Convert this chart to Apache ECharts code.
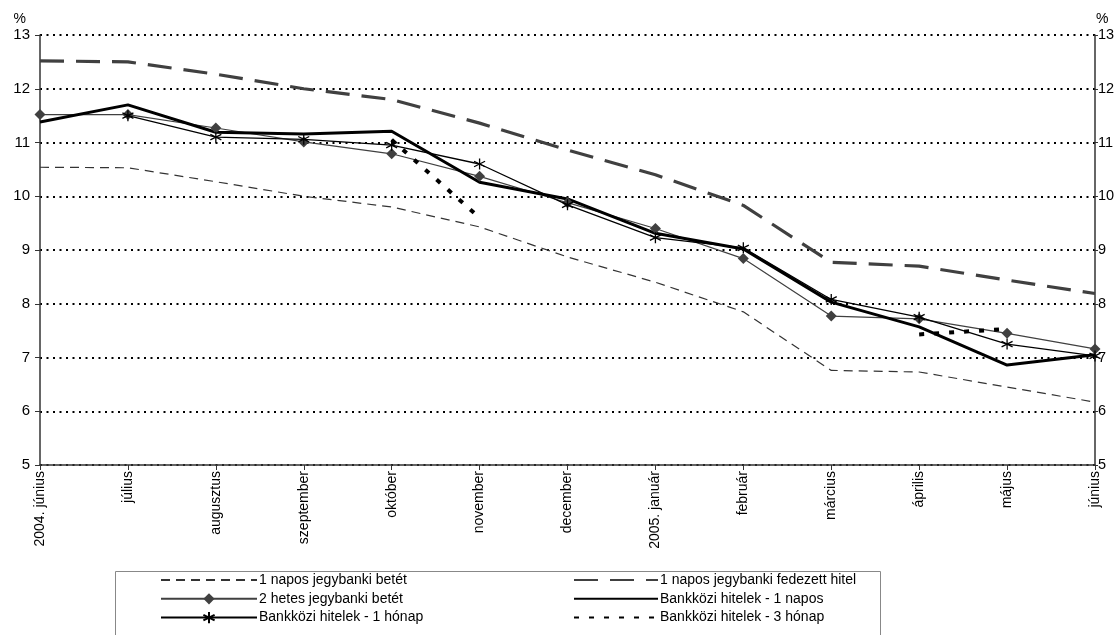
<!DOCTYPE html>
<html>
<head>
<meta charset="utf-8">
<script src="https://cdn.jsdelivr.net/npm/echarts@6/dist/echarts.min.js"></script>
<style>
  html, body { margin: 0; padding: 0; background: #fff; overflow: hidden; }
  #chart { width: 1114px; height: 635px; }
</style>
</head>
<body>
<div id="chart"></div>
<script>
var categories = ['2004. június', 'július', 'augusztus', 'szeptember', 'október', 'november', 'december', '2005. január', 'február', 'március', 'április', 'május', 'június'];
var yTicks = [5, 6, 7, 8, 9, 10, 11, 12, 13];

var betet1Napos = [10.54, 10.53, 10.27, 10.0, 9.8, 9.43, 8.87, 8.4, 7.85, 6.76, 6.73, 6.45, 6.17];
var fedezettHitel = [12.52, 12.5, 12.27, 12.0, 11.8, 11.36, 10.86, 10.4, 9.83, 8.77, 8.7, 8.44, 8.19];
var betet2Hetes = [11.52, 11.52, 11.27, 11.01, 10.79, 10.37, 9.88, 9.4, 8.84, 7.77, 7.72, 7.45, 7.16];
var bankkozi1Napos = [11.38, 11.7, 11.19, 11.16, 11.21, 10.26, 9.95, 9.31, 9.02, 8.03, 7.57, 6.86, 7.05];
var bankkozi1Honap = [null, 11.5, 11.1, 11.06, 10.95, 10.6, 9.84, 9.23, 9.04, 8.08, 7.75, 7.25, 7.03];
var bankkozi3Honap = [null, null, null, null, 11.05, 9.6, null, null, null, null, 7.43, 7.53, null];

var names = ['1 napos jegybanki betét', '1 napos jegybanki fedezett hitel', '2 hetes jegybanki betét', 'Bankközi hitelek - 1 napos', 'Bankközi hitelek - 1 hónap', 'Bankközi hitelek - 3 hónap'];

var FONT = 'Liberation Sans, Arial, sans-serif';
var starPath = 'path://M5,0L5,10M0.7,2.5L9.3,7.5M0.7,7.5L9.3,2.5';
var NOFILL = 'rgba(0,0,0,0)';

var chart = echarts.init(document.getElementById('chart'), null, { renderer: 'canvas' });

function yAxisDef(pos, showGrid) {
  var left = pos === 'left';
  return {
    type: 'value',
    position: pos,
    min: yTicks[0],
    max: yTicks[yTicks.length - 1],
    interval: 1,
    name: '%',
    nameLocation: 'end',
    nameGap: 9,
    nameTextStyle: { color: '#000', fontSize: 14, fontFamily: FONT, align: left ? 'right' : 'left', padding: left ? [0, 14, 0, 0] : [0, 0, 0, 1] },
    axisLine: { show: true, lineStyle: { color: '#333', width: 1.5 } },
    axisTick: { show: true, length: left ? 5 : 3, lineStyle: { color: '#333', width: 1 } },
    axisLabel: { color: '#000', fontSize: left ? 15 : 14.5, fontFamily: FONT, margin: left ? 10 : 3 },
    splitLine: { show: showGrid, lineStyle: { color: '#000', width: 2, type: [2, 4.5] } }
  };
}

chart.setOption({
  animation: false,
  backgroundColor: '#fff',
  grid: { left: 40, right: 19, top: 35, bottom: 170, containLabel: false, outerBoundsMode: 'none' },
  xAxis: {
    type: 'category',
    data: categories,
    boundaryGap: false,
    axisLine: { show: true, onZero: false, lineStyle: { color: '#333', width: 1.5 } },
    axisTick: { show: true, alignWithLabel: true, length: 5, interval: 0, lineStyle: { color: '#333' } },
    axisLabel: { rotate: 90, interval: 0, color: '#000', fontSize: 14, fontFamily: FONT, margin: 6 },
    splitLine: { show: false }
  },
  yAxis: [yAxisDef('left', true), yAxisDef('right', false)],
  graphic: [{
    type: 'rect',
    shape: { x: 115.5, y: 571.5, width: 765, height: 80 },
    style: { fill: '#fff', stroke: '#888', lineWidth: 1 },
    z: 0
  }],
  legend: [{
    orient: 'vertical',
    left: 160, top: 573,
    padding: 0,
    itemWidth: 96, itemHeight: 14, itemGap: 4.8,
    textStyle: { color: '#000', fontSize: 14, fontFamily: FONT, padding: [0, 0, 0, -3] },
    data: [names[0], names[2], names[4]],
    z: 5
  }, {
    orient: 'vertical',
    left: 573, top: 573,
    padding: 0,
    itemWidth: 84, itemHeight: 14, itemGap: 4.8,
    textStyle: { color: '#000', fontSize: 14, fontFamily: FONT, padding: [0, 0, 0, -3] },
    data: [names[1], names[3], names[5]],
    z: 5
  }],
  series: [
    {
      name: names[0], type: 'line', data: betet1Napos, symbol: 'none',
      lineStyle: { color: '#333', width: 1.2, type: [9, 6] }, itemStyle: { color: NOFILL, borderWidth: 0 }, z: 3
    },
    {
      name: names[1], type: 'line', data: fedezettHitel, symbol: 'none',
      lineStyle: { color: '#404040', width: 3.2, type: [24, 12] }, itemStyle: { color: NOFILL, borderWidth: 0 }, z: 3
    },
    {
      name: names[2], type: 'line', data: betet2Hetes, symbol: 'diamond', symbolSize: 11,
      lineStyle: { color: '#404040', width: 1.2 }, itemStyle: { color: '#404040' }, z: 4
    },
    {
      name: names[3], type: 'line', data: bankkozi1Napos, symbol: 'none',
      lineStyle: { color: '#000', width: 3 }, itemStyle: { color: NOFILL, borderWidth: 0 }, z: 4
    },
    {
      name: names[4], type: 'line', data: bankkozi1Honap, symbol: starPath, symbolSize: 11,
      lineStyle: { color: '#000', width: 1.3 }, itemStyle: { color: '#000', borderColor: '#000', borderWidth: 1.3 }, z: 5
    },
    {
      name: names[5], type: 'line', data: bankkozi3Honap, symbol: 'none', connectNulls: false,
      lineStyle: { color: '#000', width: 4, type: [5, 10] }, itemStyle: { color: NOFILL, borderWidth: 0 }, z: 4
    }
  ]
});
</script>
</body>
</html>
